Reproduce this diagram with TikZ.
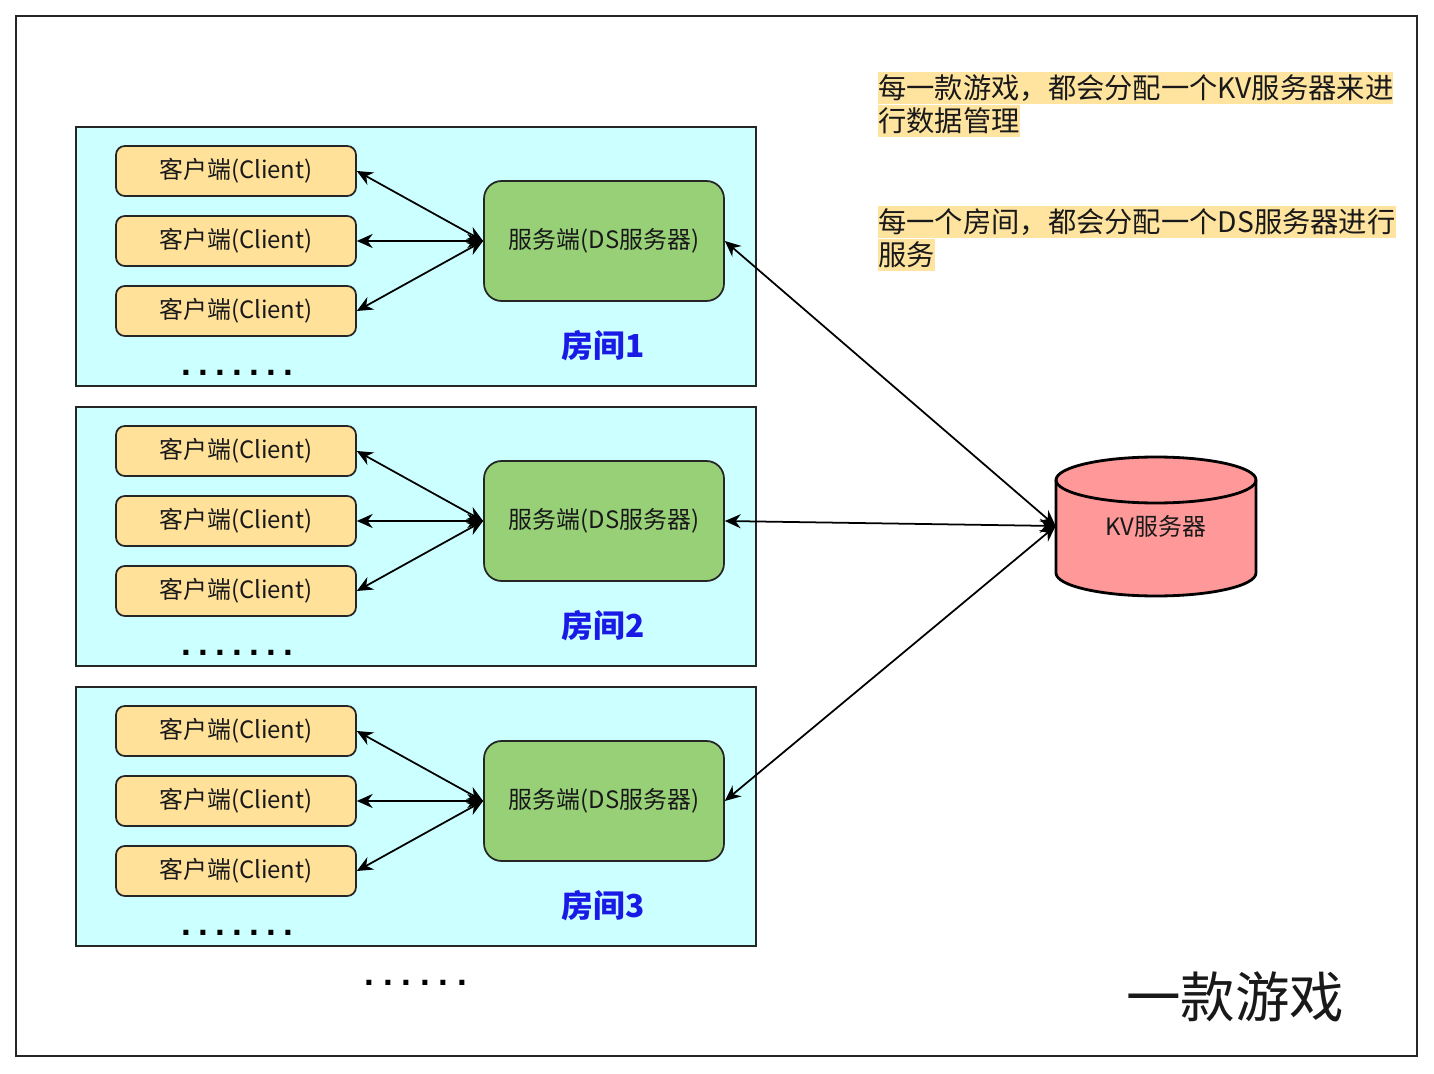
\documentclass[tikz,border=0pt]{standalone}
\usepackage{fontspec}
\setmainfont{Noto Sans CJK SC}
\newfontfamily\dotfont{Liberation Sans}
\usetikzlibrary{arrows.meta,positioning,backgrounds}

\definecolor{roomfill}{HTML}{CCFFFF}
\definecolor{clientfill}{HTML}{FFE199}
\definecolor{dsfill}{HTML}{97D077}
\definecolor{kvfill}{HTML}{FF9999}
\definecolor{notefill}{HTML}{FFE4A0}
\definecolor{labelblue}{HTML}{1A1AE6}
\definecolor{darkline}{HTML}{262626}

\tikzset{
  room/.style={draw=darkline, fill=roomfill, line width=1pt},
  client/.style={draw=darkline, fill=clientfill, rounded corners=5pt, line width=1pt,
    minimum width=4.8cm, minimum height=1.0cm, inner sep=0pt,
    font=\fontsize{13.6}{16}\selectfont, text=black!90},
  dsbox/.style={draw=darkline, fill=dsfill, rounded corners=10pt, line width=1pt,
    minimum width=4.8cm, minimum height=2.4cm, inner sep=0pt,
    font=\fontsize{13.6}{16}\selectfont, text=black!90},
  kvbox/.style={minimum width=4cm, minimum height=2.8cm, inner sep=0pt,
    font=\fontsize{13.6}{16}\selectfont, text=black!90},
  roomlabel/.style={font=\fontsize{18}{20}\selectfont\bfseries, text=labelblue},
  dots/.style={font=\dotfont\fontsize{20}{22}\selectfont\bfseries, inner sep=0pt},
  note/.style={fill=notefill, inner sep=0pt, minimum height=0.64cm,
    font=\fontsize{16.1}{19}\selectfont, text=black!90},
  link/.style={{Stealth[length=9pt,width=8pt]}-{Stealth[length=9pt,width=8pt]}, line width=1pt},
}

\begin{document}
\begin{tikzpicture}[x=0.02cm, y=-0.02cm]
  \useasboundingbox (0,0) rectangle (1434,1074);

  % Rahmen
  \draw[darkline, line width=1.1pt] (16,16) rectangle (1417,1056);

  % Raeume
  \foreach \r/\dy in {1/0, 2/280, 3/560} {
    \draw[room] (76,{127+\dy}) rectangle (756,{386+\dy});
    \node[dsbox] (ds\r) at (604,{241+\dy}) {服务端(DS服务器)};
    \foreach \k in {1,2,3} {
      \node[client] (c\r\k) at (236,{171+70*(\k-1)+\dy}) {客户端(Client)};
      \draw[link] (c\r\k.east) -- (ds\r.west);
    }
    \node[roomlabel] (label\r) at (603,{346+\dy}) {房间\r};
    \node[dots] (dots\r) at (237,{373+\dy}) {.\kern4.1pt.\kern4.1pt.\kern4.1pt.\kern4.1pt.\kern4.1pt.\kern4.1pt.};
  }

  \node[dots] (moredots) at (416,983) {.\kern5pt.\kern5pt.\kern5pt.\kern5pt.\kern5pt.};

  % KV-Server
  \node[kvbox] (kv) at (1156,526) {KV服务器};
  \begin{scope}[on background layer]
    \filldraw[draw=black, fill=kvfill, line width=1.6pt]
      (1056,480) -- (1056,573) arc[start angle=180, end angle=360, x radius=2cm, y radius=0.46cm]
      -- (1256,480) arc[start angle=0, end angle=180, x radius=2cm, y radius=0.46cm] -- cycle;
    \draw[black, line width=1.6pt] (1056,480) arc[start angle=180, end angle=360, x radius=2cm, y radius=0.46cm];
  \end{scope}

  \foreach \r in {1,2,3} {
    \draw[link] (ds\r.east) -- (kv.west);
  }

  % Hinweise
  \node[note, anchor=west] (note1a) at (878,88) {每一款游戏，都会分配一个KV服务器来进};
  \node[note, anchor=north west] (note1b) at (note1a.south west) {行数据管理};
  \node[note, anchor=west] (note2a) at (878,222) {每一个房间，都会分配一个DS服务器进行};
  \node[note, anchor=north west] (note2b) at (note2a.south west) {服务};

  % Titel
  \node[font=\fontsize{31}{34}\selectfont, text=black!90] (title) at (1235,997) {一款游戏};
\end{tikzpicture}
\end{document}
